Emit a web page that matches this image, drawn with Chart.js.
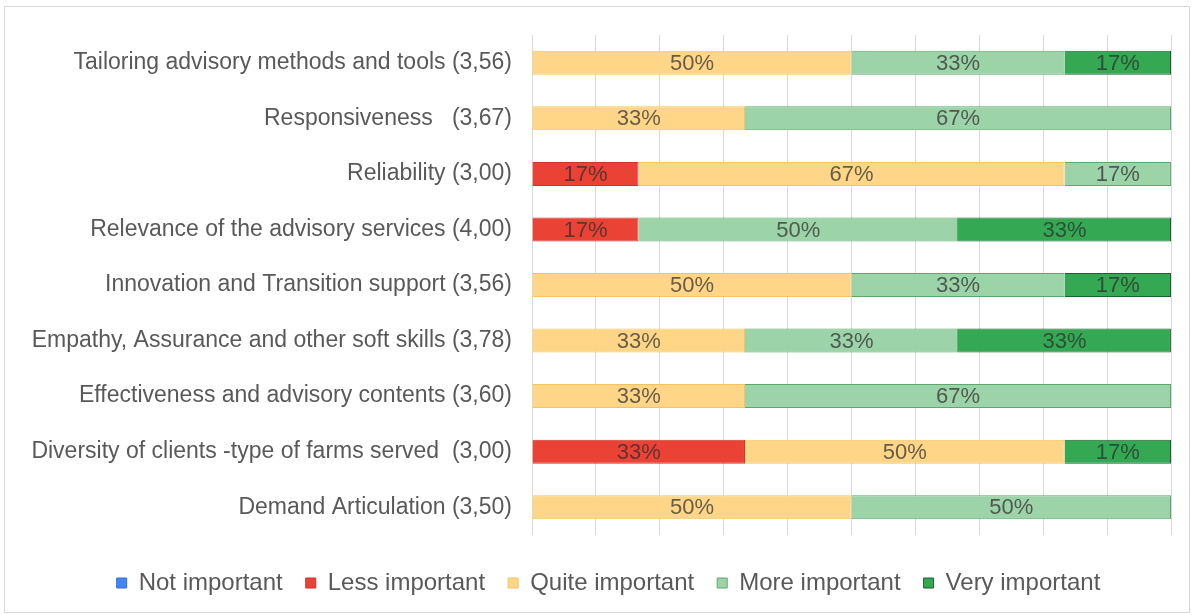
<!DOCTYPE html>
<html>
<head>
<meta charset="utf-8">
<script src="https://cdn.jsdelivr.net/npm/chart.js@4/dist/chart.umd.min.js"></script>
<style>
  html, body { margin: 0; padding: 0; background: #ffffff; }
  #wrap { position: relative; width: 1192px; height: 615px; }
</style>
</head>
<body>
<div id="wrap"><canvas id="c" width="1192" height="615"></canvas></div>
<script>
const categories = [
  "Tailoring advisory methods and tools (3,56)",
  "Responsiveness   (3,67)",
  "Reliability (3,00)",
  "Relevance of the advisory services (4,00)",
  "Innovation and Transition support (3,56)",
  "Empathy, Assurance and other soft skills (3,78)",
  "Effectiveness and advisory contents (3,60)",
  "Diversity of clients -type of farms served  (3,00)",
  "Demand Articulation (3,50)"
];
const seriesNames = ["Not important", "Less important", "Quite important", "More important", "Very important"];
const notImportant   = [0, 0, 0, 0, 0, 0, 0, 0, 0];
const lessImportant  = [0, 0, 16.67, 16.67, 0, 0, 0, 33.33, 0];
const quiteImportant = [50, 33.33, 66.67, 0, 50, 33.33, 33.33, 50, 50];
const moreImportant  = [33.33, 66.67, 16.67, 50, 33.33, 33.33, 66.67, 0, 50];
const veryImportant  = [16.67, 0, 0, 33.33, 16.67, 33.33, 0, 16.67, 0];

const FONT = "'Liberation Sans', Arial, sans-serif";

const framePlugin = {
  id: 'frame',
  afterLayout(chart) {
    // shift the legend slightly right to match the reference's placement
    if (chart.legend) { chart.legend.left += 20; chart.legend.right += 20; }
  },
  beforeDraw(chart) {
    const ctx = chart.ctx;
    ctx.save();
    ctx.fillStyle = '#ffffff';
    ctx.fillRect(0, 0, chart.width, chart.height);
    ctx.strokeStyle = '#D9D9D9';
    ctx.lineWidth = 1;
    ctx.strokeRect(4.5, 6.5, 1185, 606);
    ctx.restore();
  }
};

const valueLabels = {
  id: 'valueLabels',
  afterDatasetsDraw(chart) {
    const ctx = chart.ctx;
    ctx.save();
    ctx.font = "22px " + FONT;
    ctx.textAlign = 'center';
    ctx.textBaseline = 'middle';
    ctx.fillStyle = 'rgba(45,45,45,0.72)';
    chart.data.datasets.forEach((ds, di) => {
      const meta = chart.getDatasetMeta(di);
      if (meta.hidden) return;
      meta.data.forEach((el, i) => {
        const v = ds.data[i];
        if (!v) return;
        const cx = (el.x + el.base) / 2;
        ctx.fillText(Math.round(v) + '%', cx, el.y + 1);
      });
    });
    ctx.restore();
  }
};

new Chart(document.getElementById('c'), {
  type: 'bar',
  data: {
    labels: categories,
    datasets: [
      { label: seriesNames[0], data: notImportant,   backgroundColor: '#4285F4', borderColor: '#3570D0', borderWidth: 1 },
      { label: seriesNames[1], data: lessImportant,  backgroundColor: '#EA4335', borderColor: '#C8372B', borderWidth: 1 },
      { label: seriesNames[2], data: quiteImportant, backgroundColor: '#FFD688', borderColor: '#F2C35E', borderWidth: 1 },
      { label: seriesNames[3], data: moreImportant,  backgroundColor: '#9DD3A8', borderColor: '#5CA86D', borderWidth: 1 },
      { label: seriesNames[4], data: veryImportant,  backgroundColor: '#34A853', borderColor: '#1E5F2F', borderWidth: 1 }
    ]
  },
  options: {
    indexAxis: 'y',
    responsive: false,
    animation: false,
    devicePixelRatio: 1,
    layout: { padding: { left: 6, right: 21, top: 35, bottom: 10 } },
    datasets: { bar: { categoryPercentage: 0.432, barPercentage: 1 } },
    scales: {
      x: {
        stacked: true,
        min: 0,
        max: 100,
        ticks: { display: false, stepSize: 10 },
        grid: { color: '#D9D9D9', drawTicks: false },
        border: { display: false },
        afterFit(scale) { scale.height = 13; }
      },
      y: {
        stacked: true,
        ticks: { color: '#595959', font: { family: FONT, size: 23 }, padding: 20, autoSkip: false },
        grid: { display: false, drawTicks: false },
        border: { display: false },
        afterFit(scale) { scale.width = 532 - 6; }
      }
    },
    plugins: {
      legend: {
        position: 'bottom',
        labels: {
          color: '#595959',
          font: { family: FONT, size: 24 },
          boxWidth: 10,
          boxHeight: 10,
          padding: 23
        }
      },
      tooltip: { enabled: false }
    }
  },
  plugins: [framePlugin, valueLabels]
});
</script>
</body>
</html>
